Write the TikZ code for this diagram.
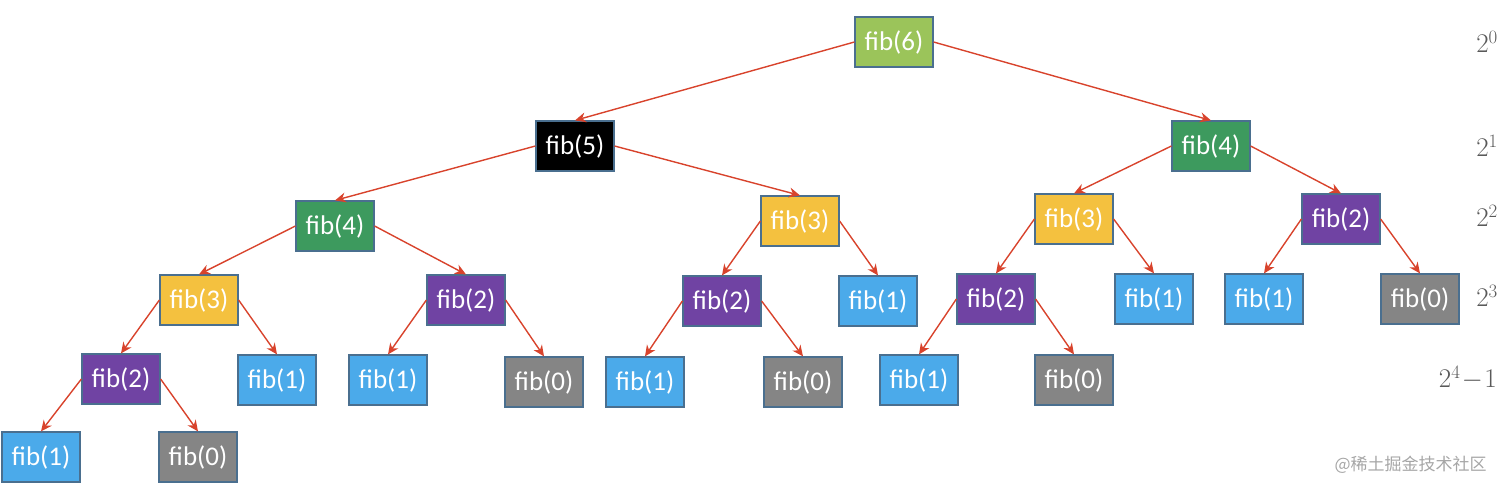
\documentclass[tikz,border=0pt]{standalone}
\usepackage{fix-cm}
\usepackage{fontspec}
\setmainfont{Carlito}
\newfontfamily\cjk{Noto Sans CJK SC}
\usetikzlibrary{arrows.meta}
\definecolor{cG6}{HTML}{9BC45A}
\definecolor{cG4}{HTML}{3D9A5E}
\definecolor{cY3}{HTML}{F4C13F}
\definecolor{cP2}{HTML}{7043A3}
\definecolor{cB1}{HTML}{4BAAEA}
\definecolor{cK0}{HTML}{858585}
\definecolor{cEdge}{HTML}{D8432C}
\definecolor{cBorder}{HTML}{4A6F8F}
\definecolor{cLab}{HTML}{595959}
\tikzset{
  fb/.style={draw=cBorder, line width=1.2pt, minimum width=78pt, minimum height=50pt, inner sep=0pt, text=white, font=\fontsize{27}{30}\selectfont},
  f6/.style={fb, fill=cG6},
  f5/.style={fb, fill=black},
  f4/.style={fb, fill=cG4},
  f3/.style={fb, fill=cY3},
  f2/.style={fb, fill=cP2},
  f1/.style={fb, fill=cB1},
  f0/.style={fb, fill=cK0},
  ed/.style={draw=cEdge, line width=1.4pt, -{Stealth[length=11pt,width=10pt]}},
  lab/.style={text=cLab, font=\fontsize{27}{30}\selectfont, anchor=east, inner sep=0pt}
}
\begin{document}
\begin{tikzpicture}[x=1pt,y=-1pt]
\useasboundingbox (0,0) rectangle (1512,491);
% row 1
\node[f6] (a) at (894,42) {fib(6)};
% row 2
\node[f5] (b) at (575,146) {fib(5)};
\node[f4] (c) at (1211,146) {fib(4)};
% row 3
\node[f4] (d) at (335,226) {fib(4)};
\node[f3] (e) at (800,221) {fib(3)};
\node[f3] (f) at (1074,219) {fib(3)};
\node[f2] (g) at (1341,219) {fib(2)};
% row 4
\node[f3] (h) at (199,300) {fib(3)};
\node[f2] (i) at (466,300) {fib(2)};
\node[f2] (j) at (722,301) {fib(2)};
\node[f1] (k) at (878,301) {fib(1)};
\node[f2] (l) at (996,299) {fib(2)};
\node[f1] (m) at (1154,299) {fib(1)};
\node[f1] (n) at (1264,299) {fib(1)};
\node[f0] (o) at (1420,299) {fib(0)};
% row 5
\node[f2] (p) at (121,379) {fib(2)};
\node[f1] (q) at (277,380) {fib(1)};
\node[f1] (r) at (388,380) {fib(1)};
\node[f0] (s) at (544,382) {fib(0)};
\node[f1] (t) at (645,382) {fib(1)};
\node[f0] (u) at (803,382) {fib(0)};
\node[f1] (v) at (919,380) {fib(1)};
\node[f0] (w) at (1074,380) {fib(0)};
% row 6
\node[f1] (x) at (41,457) {fib(1)};
\node[f0] (y) at (198,457) {fib(0)};
% edges
\draw[ed] (a.west) -- (b.north);
\draw[ed] (a.east) -- (c.north);
\draw[ed] (b.west) -- (d.north);
\draw[ed] (b.east) -- (e.north);
\draw[ed] (c.west) -- (f.north);
\draw[ed] (c.east) -- (g.north);
\draw[ed] (d.west) -- (h.north);
\draw[ed] (d.east) -- (i.north);
\draw[ed] (e.west) -- (j.north);
\draw[ed] (e.east) -- (k.north);
\draw[ed] (f.west) -- (l.north);
\draw[ed] (f.east) -- (m.north);
\draw[ed] (g.west) -- (n.north);
\draw[ed] (g.east) -- (o.north);
\draw[ed] (h.west) -- (p.north);
\draw[ed] (h.east) -- (q.north);
\draw[ed] (i.west) -- (r.north);
\draw[ed] (i.east) -- (s.north);
\draw[ed] (j.west) -- (t.north);
\draw[ed] (j.east) -- (u.north);
\draw[ed] (l.west) -- (v.north);
\draw[ed] (l.east) -- (w.north);
\draw[ed] (p.west) -- (x.north);
\draw[ed] (p.east) -- (y.north);
% level labels
\node[lab] (l0) at (1498,42) {$2^0$};
\node[lab] (l1) at (1498,146) {$2^1$};
\node[lab] (l2) at (1498,216) {$2^2$};
\node[lab] (l3) at (1498,296) {$2^3$};
\node[lab] (l4) at (1497,378) {$2^4\mskip1mu{-}\mskip1mu1$};
% watermark
\node[text=gray!70, font=\cjk\fontsize{17}{19}\selectfont, anchor=west] (wm) at (1331,465) {@稀土掘金技术社区};
\end{tikzpicture}
\end{document}
